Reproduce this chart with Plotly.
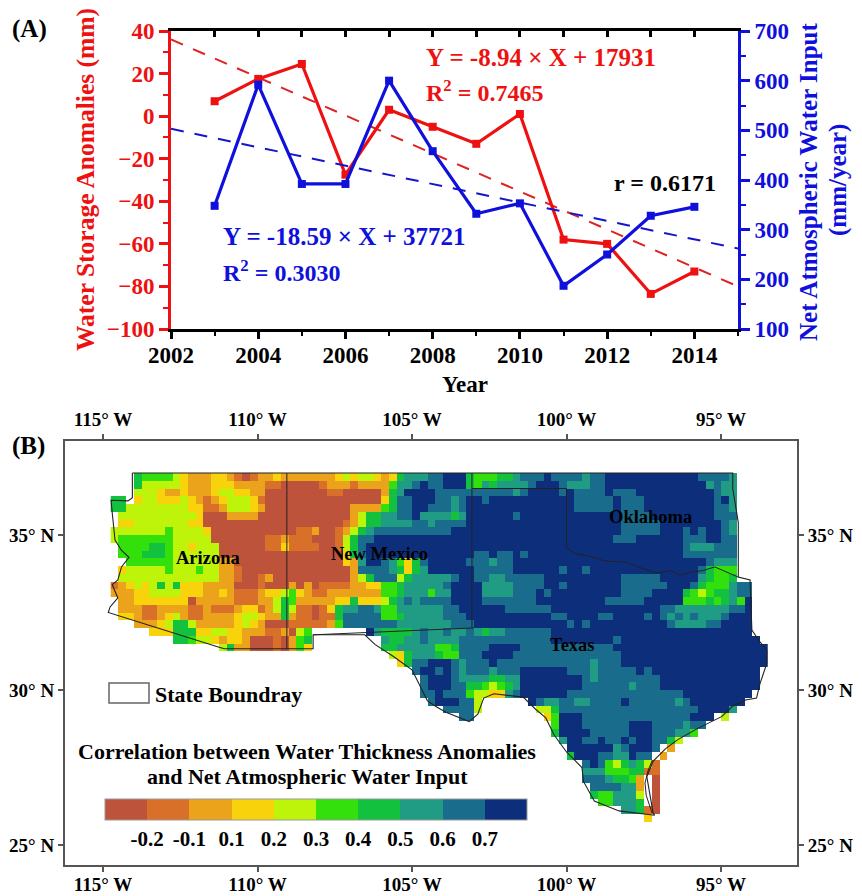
import numpy as np
import plotly.graph_objects as go

FONT = "Liberation Serif"
PAGE_W, PAGE_H, BODY = 862, 896, 8
W, H = PAGE_W - BODY, PAGE_H - BODY

years = [2003, 2004, 2005, 2006, 2007, 2008, 2009, 2010, 2011, 2012, 2013, 2014]
storage = [7, 17.5, 24.5, -27.5, 3, -5, -13, 1, -58, -60, -83.5, -73]
water_input = [348, 592, 392, 392, 600, 458, 332, 353, 187, 250, 328, 346]
trend_years = [2002, 2015]
storage_trend = [36, -80]
input_trend = [503, 262]

class_colors = ["#BE533B", "#D9702A", "#EBA31B", "#F8D20A", "#BDF40A",
                "#33E00C", "#12C23F", "#219C84", "#196C8B", "#0D2F7B"]
class_labels = ["-0.2", "-0.1", "0.1", "0.2", "0.3", "0.4", "0.5", "0.6", "0.7"]

# Each token is column=class (0-9, '.' is no data), in force until the next token.
grid_rows = [
"3=6 4=5 8=4 9=3 10=2 13=3 15=2 16=1 17=0 18=1 19=2 21=3 22=2 29=3 30=4 31=3 32=4 34=3 35=2 36=3 37=6 38=7 41=8 43=9 46=6 47=5 50=6 52=7 53=8 56=9 57=8 61=7 62=8 64=9 76=8 80=7 81=.",
"3=6 4=4 9=3 10=2 13=3 16=2 20=1 22=0 27=1 28=2 31=1 32=2 36=5 37=7 39=8 40=9 41=8 43=9 46=6 47=5 48=7 49=6 50=7 54=8 55=9 58=8 59=7 62=8 64=9 77=7 78=8 79=7 81=.",
"3=4 6=3 7=2 9=3 10=2 13=3 14=4 16=3 18=2 20=0 28=1 30=0 35=2 36=6 37=7 38=9 42=8 52=7 53=8 54=9 58=8 59=9 60=8 64=9 65=8 68=9 78=8 79=7 81=.",
"0=6 2=. 3=3 4=4 6=3 9=4 10=3 11=2 12=1 13=2 14=3 15=4 18=3 19=1 20=0 35=3 36=6 37=8 39=9 42=8 44=7 45=8 46=9 48=8 49=9 60=8 65=9 66=8 69=9 78=8 79=9 80=7 81=.",
"0=6 2=4 10=3 12=1 14=2 15=4 18=3 19=2 20=0 31=2 35=5 36=6 37=8 39=9 41=8 44=7 45=8 46=9 60=8 65=9 66=8 69=9 78=8 80=7 81=.",
"1=4 11=3 12=0 15=2 19=0 31=2 32=4 33=6 35=7 37=8 39=9 40=7 44=6 45=7 46=9 52=8 53=9 66=8 70=9 78=8 81=.",
"1=3 3=4 10=3 12=0 30=1 31=2 32=4 33=6 35=7 39=8 41=7 42=8 46=9 66=8 71=9 79=8 80=7 81=.",
"0=4 7=5 8=4 12=3 13=0 24=1 26=2 27=0 29=1 30=2 31=4 32=6 33=7 34=8 44=9 66=8 71=9 74=8 75=9 76=8 77=9 79=8 80=7 81=.",
"0=4 1=5 8=4 13=0 20=1 22=2 23=1 26=0 29=1 30=4 31=6 32=8 34=9 65=8 68=9 74=8 77=9 79=8 81=.",
"1=5 5=6 7=5 8=4 10=3 11=4 14=0 20=1 22=3 23=1 27=0 29=1 30=4 31=6 32=8 33=9 74=8 75=7 78=8 81=.",
"1=5 4=6 7=5 8=4 14=0 30=3 31=6 32=8 33=9 47=8 49=9 50=8 52=9 53=8 54=9 74=8 81=.",
"2=5 8=4 14=2 16=0 30=3 31=2 32=7 33=9 35=8 36=7 37=5 38=3 39=6 40=8 41=9 46=8 49=7 50=8 52=9 77=8 78=7 81=.",
"1=3 2=4 7=5 8=4 11=5 12=4 14=2 16=1 17=0 31=2 32=8 36=7 37=6 38=3 39=6 40=7 41=9 47=8 52=9 58=8 59=9 61=8 62=9 76=8 77=6 78=5 81=.",
"1=4 14=2 16=1 17=0 19=1 20=2 21=0 31=2 32=4 33=6 34=8 37=4 38=6 39=7 44=8 45=9 47=8 49=7 51=8 56=9 66=8 71=9 76=7 77=6 78=5 80=6 81=.",
"0=1 1=2 2=3 3=4 4=3 5=4 6=6 7=4 8=6 9=3 12=2 16=0 19=1 20=0 23=2 24=0 25=2 26=0 27=1 31=2 33=3 35=5 37=6 38=7 43=8 44=9 48=7 52=8 56=9 58=8 59=9 66=8 72=9 75=8 76=6 77=5 80=7 81=8 83=.",
"0=2 3=3 5=4 9=3 12=2 14=3 15=2 16=1 19=2 20=3 22=4 23=5 24=3 25=2 26=1 28=2 35=5 37=6 38=7 41=5 42=7 44=9 48=7 52=8 55=9 56=8 57=9 66=8 70=9 74=6 75=5 76=4 77=5 78=6 80=7 81=8 83=.",
"1=2 3=3 10=0 11=2 16=1 19=2 21=4 22=6 23=5 24=2 29=3 31=6 32=3 35=4 36=6 37=7 38=8 39=7 40=8 44=9 48=8 55=9 64=8 69=9 74=5 77=6 78=5 79=6 80=7 81=5 82=9 83=.",
"1=2 4=1 6=2 10=1 12=2 13=1 16=2 17=3 19=1 20=2 21=4 22=6 23=4 24=1 26=0 27=1 28=3 29=6 30=7 32=8 34=7 35=5 37=7 43=8 45=9 51=8 57=9 71=8 73=7 80=8 82=9 83=.",
"1=3 3=2 4=1 6=2 7=3 8=4 9=2 10=1 12=2 16=3 17=4 19=3 20=2 22=6 23=2 24=1 26=0 27=1 29=6 30=8 35=5 37=6 38=7 43=8 46=9 57=8 59=9 63=8 65=9 69=8 70=9 71=8 72=7 73=8 74=7 75=8 76=7 79=8 80=9 83=.",
"3=2 6=3 7=4 8=6 10=4 11=2 16=3 17=4 18=3 19=2 20=0 23=1 28=2 29=5 30=8 37=7 44=8 47=9 59=8 60=9 61=8 62=9 72=8 73=7 77=8 79=9 83=.",
"5=3 8=6 11=3 13=4 15=3 17=2 20=1 22=2 23=0 24=4 25=5 26=. 33=9 34=7 35=6 39=7 40=8 41=7 43=8 44=7 46=8 47=7 48=6 49=7 51=8 57=9 83=.",
"8=6 10=5 11=4 13=3 14=2 15=3 17=2 18=0 21=1 22=0 23=2 24=5 25=6 26=. 35=7 36=6 38=7 40=8 41=7 45=8 57=9 65=8 66=9 84=.",
"14=4 15=6 16=2 18=0 21=1 22=0 23=2 24=5 25=3 26=. 35=6 37=7 42=5 44=6 45=8 49=9 53=8 65=9 85=.",
"36=4 37=3 38=6 39=7 42=6 43=5 45=8 48=9 52=8 66=9 85=.",
"37=3 38=6 39=8 41=9 44=8 45=7 46=8 49=9 50=8 62=7 63=8 66=9 85=.",
"39=8 40=9 42=8 43=9 44=8 45=7 46=8 49=7 50=8 53=9 59=8 62=7 63=8 68=9 69=8 70=9 84=.",
"40=8 41=9 44=8 45=7 49=6 51=7 53=9 61=8 62=7 63=8 71=9 84=.",
"40=8 41=9 44=8 46=6 48=5 49=4 50=5 51=6 52=7 53=9 61=8 67=7 68=8 71=9 84=.",
"40=8 42=9 43=8 46=5 47=4 49=3 51=7 52=8 53=9 59=8 74=9 83=.",
"41=8 42=9 45=8 47=4 48=. 54=9 55=8 56=7 58=8 60=7 62=8 66=9 67=8 73=7 74=8 75=9 82=.",
"43=8 47=4 48=. 55=4 57=6 58=8 76=9 80=7 81=.",
"45=8 47=. 56=3 57=5 58=9 61=8 74=8 75=9 78=. 79=4 80=.",
"57=5 58=9 61=8 67=9 70=8 74=7 75=8 77=.",
"57=6 58=9 62=8 67=9 70=8 73=7 75=5 76=.",
"58=7 59=9 61=8 63=9 64=8 66=9 67=8 68=9 70=8 72=6 73=4 74=.",
"59=9 65=7 66=8 67=9 70=8 71=. 72=2 73=.",
"59=6 60=9 63=8 65=7 67=9 68=8 70=. 71=2 72=.",
"61=8 62=9 63=8 64=5 65=4 66=6 67=7 68=6 69=4 70=1 71=.",
"61=7 64=5 67=6 69=1 71=.",
"61=8 64=7 65=6 67=5 68=2 69=. 70=0 71=.",
"62=8 66=7 68=2 69=. 70=0 71=.",
"62=6 63=5 65=7 68=4 69=. 70=0 71=.",
"63=5 65=7 68=6 69=. 70=0 71=.",
"66=7 68=6 69=1 70=0 71=.",
"69=3 70=.",
]

outline_lon = [-114.05, -114.05, -114.19, -114.74, -114.7, -114.63, -114.61, -114.4, -114.16, -114.4, -114.52, -114.7,
               -114.52, -114.77, -114.83, -111.27, -111.07, -109.05, -108.2, -108.2, -106.53, -106.2, -105.6, -105.0,
               -104.7, -104.5, -104.2, -103.9, -103.15, -102.87, -102.68, -102.35, -101.4, -101.0, -100.67, -100.4,
               -100.0, -99.5, -99.45, -99.1, -98.3, -97.15, -97.2, -97.3, -97.4, -97.2, -97.05, -96.8, -96.4, -95.74,
               -94.98, -94.6, -94.2, -93.85, -93.74, -93.52, -93.52, -93.74, -94.0, -94.06, -94.44, -94.44, -94.62,
               -94.62, -114.05]
outline_lat = [37.0, 36.2, 36.1, 36.12, 35.7, 35.16, 34.84, 34.5, 34.28, 33.97, 33.55, 33.4,
               32.97, 32.68, 32.5, 31.39, 31.33, 31.33, 31.33, 31.78, 31.78, 31.47, 31.08, 30.65,
               30.05, 29.65, 29.45, 29.28, 28.98, 29.22, 29.74, 29.88, 29.77, 29.38, 29.1, 28.55,
               28.0, 27.5, 27.05, 26.42, 26.1, 25.96, 26.05, 26.6, 27.2, 27.7, 27.85, 28.1, 28.4, 28.77,
               29.14, 29.5, 29.68, 29.74, 30.2, 30.85, 31.3, 31.55, 31.93, 33.55, 33.64, 35.4, 36.5,
               37.0, 37.0]
borders_lon = [-109.05, -109.05, None, -103.06, -103.06, -103.0, None, -108.2, -103.06, None, -103.06, -100.0, -100.0,
               -99.7, -99.2, -98.9, -98.6, -98.1, -97.7, -97.1, -96.6, -96.33, -96.0, -95.6, -95.2, -94.8, -94.44,
               None, -97.46, -97.36, -97.22, None, -97.23, -97.42, -97.46]
borders_lat = [37.0, 31.33, None, 37.0, 32.0, 32.0, None, 31.78, 32.0, None, 36.5, 36.5, 34.58,
               34.4, 34.3, 34.2, 34.15, 34.13, 33.98, 33.77, 33.85, 33.7, 33.8, 33.85, 33.97, 33.8, 33.64,
               None, 27.0, 27.4, 27.74, None, 26.03, 26.6, 27.0]


def expand(row):
    out = [np.nan] * 85
    tokens = [t.split("=") for t in row.split()]
    for k, (start, cls) in enumerate(tokens):
        end = int(tokens[k + 1][0]) if k + 1 < len(tokens) else 85
        if cls != ".":
            out[int(start):end] = [float(cls)] * (end - int(start))
    return out


grid = [expand(r) for r in grid_rows]
n = len(class_colors)
scale = []
for i, c in enumerate(class_colors):
    scale += [[i / n, c], [(i + 1) / n, c]]


def px(v):
    return (v - BODY) / W


def py(v):
    return 1 - (v - BODY) / H


def bold(size, color="black"):
    return dict(family=FONT, size=size, color=color, weight=700)


fig = go.Figure()
RED, BLUE = "#EE1111", "#1010DD"
fig.add_trace(go.Scatter(x=trend_years, y=storage_trend, mode="lines", line=dict(color="#DD2222", width=2, dash="13px,11px"), hoverinfo="skip"))
fig.add_trace(go.Scatter(x=trend_years, y=input_trend, yaxis="y2", mode="lines", line=dict(color="#1515CC", width=2, dash="13px,11px"), hoverinfo="skip"))
fig.add_trace(go.Scatter(x=years, y=storage, mode="lines+markers", line=dict(color=RED, width=3.2),
                         marker=dict(symbol="square", size=8, color=RED)))
fig.add_trace(go.Scatter(x=years, y=water_input, yaxis="y2", mode="lines+markers", line=dict(color=BLUE, width=3.2),
                         marker=dict(symbol="square", size=8, color=BLUE)))
fig.add_trace(go.Scatter(x=[2002], y=[None], xaxis="x5", mode="lines", hoverinfo="skip"))

fig.add_trace(go.Heatmap(
    z=grid, x0=-114.625, dx=0.25, y0=36.875, dy=-0.25, xaxis="x3", yaxis="y3",
    zmin=0, zmax=n, colorscale=scale, hoverongaps=False, xgap=0, ygap=0,
    colorbar=dict(orientation="h", x=px(105), xanchor="left", y=py(845), yanchor="bottom",
                  thickness=21, thicknessmode="pixels", len=422, lenmode="pixels", xpad=0, ypad=0,
                  tickvals=list(range(1, n)), ticktext=class_labels, ticks="", ticklabelposition="outside",
                  tickfont=bold(21),
                  outlinecolor="#999999", outlinewidth=1, borderwidth=0),
))
fig.add_trace(go.Scatter(x=outline_lon, y=outline_lat, xaxis="x3", yaxis="y3", mode="lines",
                         line=dict(color="#222222", width=1.1), hoverinfo="skip"))
fig.add_trace(go.Scatter(x=borders_lon, y=borders_lat, xaxis="x3", yaxis="y3", mode="lines",
                         line=dict(color="#222222", width=1), hoverinfo="skip", connectgaps=False))
fig.add_trace(go.Scatter(x=[-100], y=[None], xaxis="x4", yaxis="y4", mode="lines", hoverinfo="skip"))

lon_vals = [-115, -110, -105, -100, -95]
lon_text = ["115° W", "110° W", "105° W", "100° W", "95° W"]
lat_vals = [25, 30, 35]
lat_text = ["25° N", "30° N", "35° N"]
lon_range = [-115 + (65 - 103) / 30.9, -115 + (797 - 103) / 30.9]
lat_range = [35 - (865 - 535) / 31, 35 + (535 - 441) / 31]
frame = dict(showline=True, linecolor="#555555", linewidth=2, ticks="outside", ticklen=5, tickwidth=1.5,
             tickcolor="#555555", showgrid=False, zeroline=False, tickfont=bold(19), tickmode="array")

fig.update_layout(
    width=W, height=H, margin=dict(l=0, r=0, t=0, b=0, autoexpand=False), paper_bgcolor="white", plot_bgcolor="white",
    showlegend=False,
    xaxis=dict(domain=[px(171), px(738)], range=[2002, 2015], dtick=2, tick0=2002, ticks="outside", ticklen=7,
               tickwidth=2.5, tickcolor="black", linecolor="black", linewidth=3, showline=True, showgrid=False,
               zeroline=False, tickfont=bold(23), anchor="y", ticklabelstandoff=-4,
               minor=dict(dtick=1, tick0=2002, ticks="outside", ticklen=4, tickwidth=2, tickcolor="black")),
    xaxis5=dict(domain=[px(171), px(738)], range=[2002, 2015], overlaying="x", side="top", anchor="y", dtick=1, tick0=2002,
                ticks="inside", ticklen=6, tickwidth=2.5, tickcolor="black", showticklabels=False, showline=True,
                linecolor="black", linewidth=3, showgrid=False, zeroline=False),
    yaxis=dict(domain=[py(329), py(31)], range=[-100, 40], dtick=20, ticks="outside", ticklen=9, tickwidth=2.5,
               tickcolor=RED, linecolor=RED, linewidth=3, showline=True, showgrid=False, zeroline=False,
               tickfont=bold(23, RED), anchor="x",
               minor=dict(dtick=10, ticks="outside", ticklen=5, tickwidth=2, tickcolor=RED)),
    yaxis2=dict(domain=[py(329), py(31)], range=[100, 700], dtick=100, side="right", overlaying="y", anchor="x",
                ticks="outside", ticklen=9, tickwidth=2.5, tickcolor=BLUE, linecolor=BLUE, linewidth=3, showline=True,
                showgrid=False, zeroline=False, tickfont=bold(23, BLUE),
                minor=dict(dtick=50, ticks="outside", ticklen=5, tickwidth=2, tickcolor=BLUE)),
    xaxis3=dict(domain=[px(65), px(797)], range=lon_range, tickvals=lon_vals, ticktext=lon_text, anchor="y3",
                ticklabelstandoff=-4, **frame),
    yaxis3=dict(domain=[py(865), py(441)], range=lat_range, tickvals=lat_vals, ticktext=lat_text, anchor="x3", **frame),
    xaxis4=dict(domain=[px(65), px(797)], range=lon_range, tickvals=lon_vals, ticktext=lon_text, anchor="y4",
                side="top", overlaying="x3", **frame),
    yaxis4=dict(domain=[py(865), py(441)], range=lat_range, tickvals=lat_vals, ticktext=lat_text, anchor="x4",
                side="right", overlaying="y3", **frame),
    shapes=[dict(type="rect", xref="paper", yref="paper", x0=px(109), x1=px(149), y0=py(703), y1=py(683),
                 line=dict(color="#666666", width=1.5), fillcolor="white")],
)


def note(text, x, y, size=22, color="black", anchor="left", angle=0):
    fig.add_annotation(text=text, xref="paper", yref="paper",
                       x=px(x), y=py(y), xanchor=anchor, yanchor="middle", showarrow=False, textangle=angle,
                       font=bold(size, color))


note("(A)", 10, 29, 25)
note("(B)", 10, 446, 25)
note("Y = -8.94 × X + 17931", 424, 57, 25, RED)
note("R<sup>2</sup> = 0.7465", 424, 91, 24, RED)
note("Y = -18.59 × X + 37721", 221, 237, 25, BLUE)
note("R<sup>2</sup> = 0.3030", 221, 271, 24, BLUE)
note("r = 0.6171", 612, 183, 24)
note("Year", 465, 384, 23, anchor="center")
note("Water Storage Anomalies (mm)", 85, 180, 25.5, RED, anchor="center", angle=-90)
note("Net Atmospheric Water Input", 808, 182, 25, BLUE, anchor="center", angle=-90)
note("(mm/year)", 838, 180, 25, BLUE, anchor="center", angle=-90)
note("Arizona", 208, 558, 18.5, anchor="center")
note("New Mexico", 379, 554, 18.5, anchor="center")
note("Oklahoma", 650, 517, 18.5, anchor="center")
note("Texas", 572, 645, 18.5, anchor="center")
note("State Boundray", 153, 694, 22)
note("Correlation between Water Thickness Anomalies", 307, 751, 22, anchor="center")
note("and Net Atmospheric Water Input", 307, 776, 22, anchor="center")

fig.write_html("out.html")
